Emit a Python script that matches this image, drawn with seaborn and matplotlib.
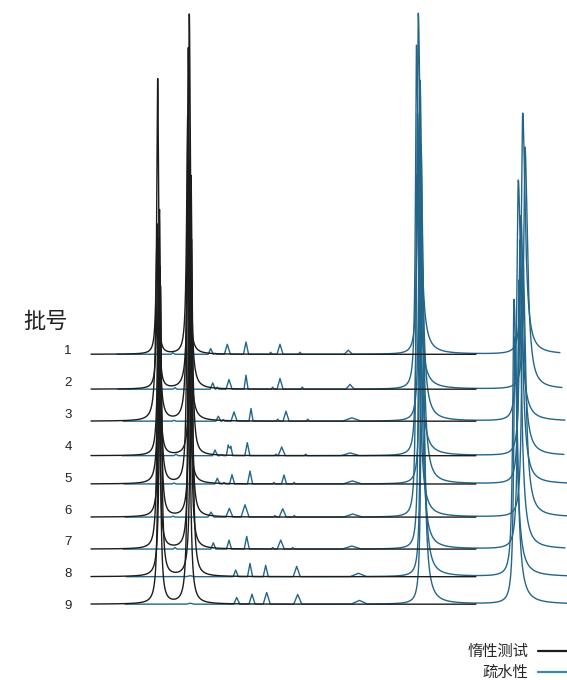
import numpy as np
import pandas as pd
import matplotlib
matplotlib.use("Agg")
import matplotlib.pyplot as plt
from matplotlib.lines import Line2D
import seaborn as sns

# ---- data (retention time in min, signal in mAU) ----
batches = ["1", "2", "3", "4", "5", "6", "7", "8", "9"]
baseline = [-3.3, -6.3, -6.4, -9.0, -5.4, -6.6, -6.7, -2.4, 2.0]

# inert test: two main peaks
inert_end = 38.5
inert_p1_t = [6.62, 6.70, 6.67, 6.78, 6.85, 6.90, 6.74, 6.95, 6.82]
inert_p1_h = [130, 150, 342, 200, 274, 250, 270, 290, 300]
inert_p2_t = [9.67, 9.83, 9.73, 10.00, 9.70, 9.95, 9.88, 10.05, 9.78]
inert_p2_h = [238, 375, 373, 280, 284, 302, 319, 337, 354]

# hydrophobic test: run start / end and the two big peaks
hyd_start = [2.6, 2.7, 3.2, 3.1, 3.3, 3.4, 3.2, 3.5, 3.4]
hyd_end = [46.9, 47.1, 47.4, 47.3, 47.6, 47.6, 47.4, 47.6, 47.6]
hyd_p1_t = [32.73, 32.55, 32.90, 32.65, 33.00, 32.60, 32.85, 33.05, 33.10]
hyd_p1_h = [341, 344, 341, 342, 339, 342, 344, 342, 342]
hyd_p2_t = [43.17, 43.40, 42.73, 43.00, 42.90, 43.20, 42.80, 42.30, 42.40]
hyd_p2_h = [241, 242, 241, 240, 244, 257, 269, 277, 267]

# hydrophobic test: small peaks per batch (time, height, half width)
small_t = [
    [8.20, 11.97, 12.40, 13.63, 15.50, 17.97, 18.90, 20.90, 25.73],
    [8.40, 12.17, 12.63, 13.80, 15.50, 18.17, 18.90, 21.13, 25.90],
    [8.30, 12.73, 13.23, 14.30, 16.00, 18.67, 19.50, 21.67, 26.07],
    [8.50, 12.40, 13.07, 13.73, 13.97, 15.63, 18.50, 19.07, 21.47, 25.90],
    [8.30, 12.63, 13.30, 14.10, 15.90, 18.30, 19.30, 20.30, 26.13],
    [8.20, 12.00, 13.83, 15.40, 18.40, 19.17, 20.33, 26.17],
    [8.40, 12.23, 13.80, 15.57, 18.17, 18.97, 20.17, 26.07],
    [9.90, 14.47, 15.90, 17.47, 20.57, 26.73],
    [9.90, 14.57, 16.10, 17.57, 20.67, 26.83],
]
small_h = [
    [1.5, 5.7, 1.0, 10.0, 12.3, 2.0, 10.0, 2.0, 4.0],
    [1.5, 6.3, 2.0, 9.7, 14.0, 2.0, 10.7, 2.0, 4.7],
    [1.0, 5.0, 1.5, 9.3, 12.7, 2.0, 10.0, 2.0, 3.3],
    [1.5, 5.7, 1.0, 10.7, 9.5, 13.0, 1.5, 8.7, 1.5, 2.7],
    [1.0, 5.7, 1.5, 9.3, 13.0, 1.5, 9.0, 1.5, 3.0],
    [1.0, 5.0, 8.7, 12.3, 1.5, 8.3, 1.5, 3.0],
    [1.5, 6.3, 9.0, 12.7, 1.5, 9.0, 1.5, 3.0],
    [1.0, 6.7, 13.3, 11.3, 10.3, 3.3],
    [1.0, 6.7, 10.0, 11.7, 9.7, 3.7],
]
small_w = [
    [0.20, 0.25, 0.15, 0.30, 0.25, 0.15, 0.30, 0.15, 0.40],
    [0.20, 0.25, 0.15, 0.30, 0.20, 0.15, 0.30, 0.15, 0.40],
    [0.20, 0.25, 0.15, 0.30, 0.20, 0.15, 0.30, 0.15, 0.90],
    [0.20, 0.25, 0.15, 0.20, 0.20, 0.25, 0.15, 0.35, 0.15, 0.90],
    [0.20, 0.25, 0.15, 0.25, 0.25, 0.15, 0.25, 0.15, 0.90],
    [0.20, 0.30, 0.35, 0.40, 0.15, 0.35, 0.15, 0.90],
    [0.20, 0.25, 0.25, 0.25, 0.15, 0.35, 0.15, 0.90],
    [0.40, 0.25, 0.25, 0.25, 0.35, 0.80],
    [0.40, 0.30, 0.30, 0.35, 0.40, 0.80],
]

INERT = "惰性测试"
HYD = "疏水性"
BLACK = "#1c1c1c"
BLUE = "#23668a"
step = 31.9  # vertical stacking offset between batches


def lorentz(t, t0, h, wl, wr):
    w = np.where(t < t0, wl, wr)
    return h * w**2 / ((t - t0) ** 2 + w**2)


def tri(t, t0, h, hw):
    return h * np.clip(1 - np.abs(t - t0) / hw, 0, None)


rows = []
for i, b in enumerate(batches):
    off = -step * i + baseline[i]

    t = np.arange(0, inert_end, 0.01)
    y = lorentz(t, inert_p1_t[i], inert_p1_h[i], 0.13, 0.13)
    y += lorentz(t, inert_p2_t[i], inert_p2_h[i], 0.13, 0.14)
    rows.append(pd.DataFrame({"t": t, "y": y + off, "batch": b, "test": INERT}))

    t = np.arange(hyd_start[i], hyd_end[i], 0.01)
    y = lorentz(t, hyd_p1_t[i], hyd_p1_h[i], 0.12, 0.25)
    y += lorentz(t, hyd_p2_t[i], hyd_p2_h[i], 0.15, 0.30)
    for t0, h, w in zip(small_t[i], small_h[i], small_w[i]):
        y += tri(t, t0, h, w)
    rows.append(pd.DataFrame({"t": t, "y": y + off, "batch": b, "test": HYD}))

df = pd.concat(rows, ignore_index=True)

sns.set_theme(style="white")
plt.rcParams["font.family"] = ["Liberation Sans", "Noto Sans CJK SC", "DejaVu Sans"]

fig = plt.figure(figsize=(5.67, 6.8), dpi=100)
ax = fig.add_axes([0, 0, 1, 1])
sns.lineplot(data=df, x="t", y="y", hue="test", units="batch", estimator=None,
             hue_order=[HYD, INERT], palette={INERT: BLACK, HYD: BLUE},
             linewidth=1.0, legend=False, ax=ax)

ax.set_xlim(-9.1, 47.6)
ax.set_ylim(-329, 351)
ax.set_axis_off()

for i, b in enumerate(batches):
    ax.text(-2.3, -step * i, b, ha="center", va="center", fontsize=9.5, color="#222222")
ax.text(-4.5, 29, "批号", ha="center", va="center", fontsize=16, color="#222222")

handles = [Line2D([], [], color=BLACK, lw=1.6), Line2D([], [], color="#3a8aa6", lw=1.6)]
ax.legend(handles, [INERT, HYD], loc="lower right", bbox_to_anchor=(1.0, 0.0),
          frameon=False, markerfirst=False, fontsize=11, handlelength=1.9,
          handletextpad=0.6, labelspacing=0.45, borderaxespad=0.0, borderpad=0.0)

fig.savefig("out.png", dpi=100)
